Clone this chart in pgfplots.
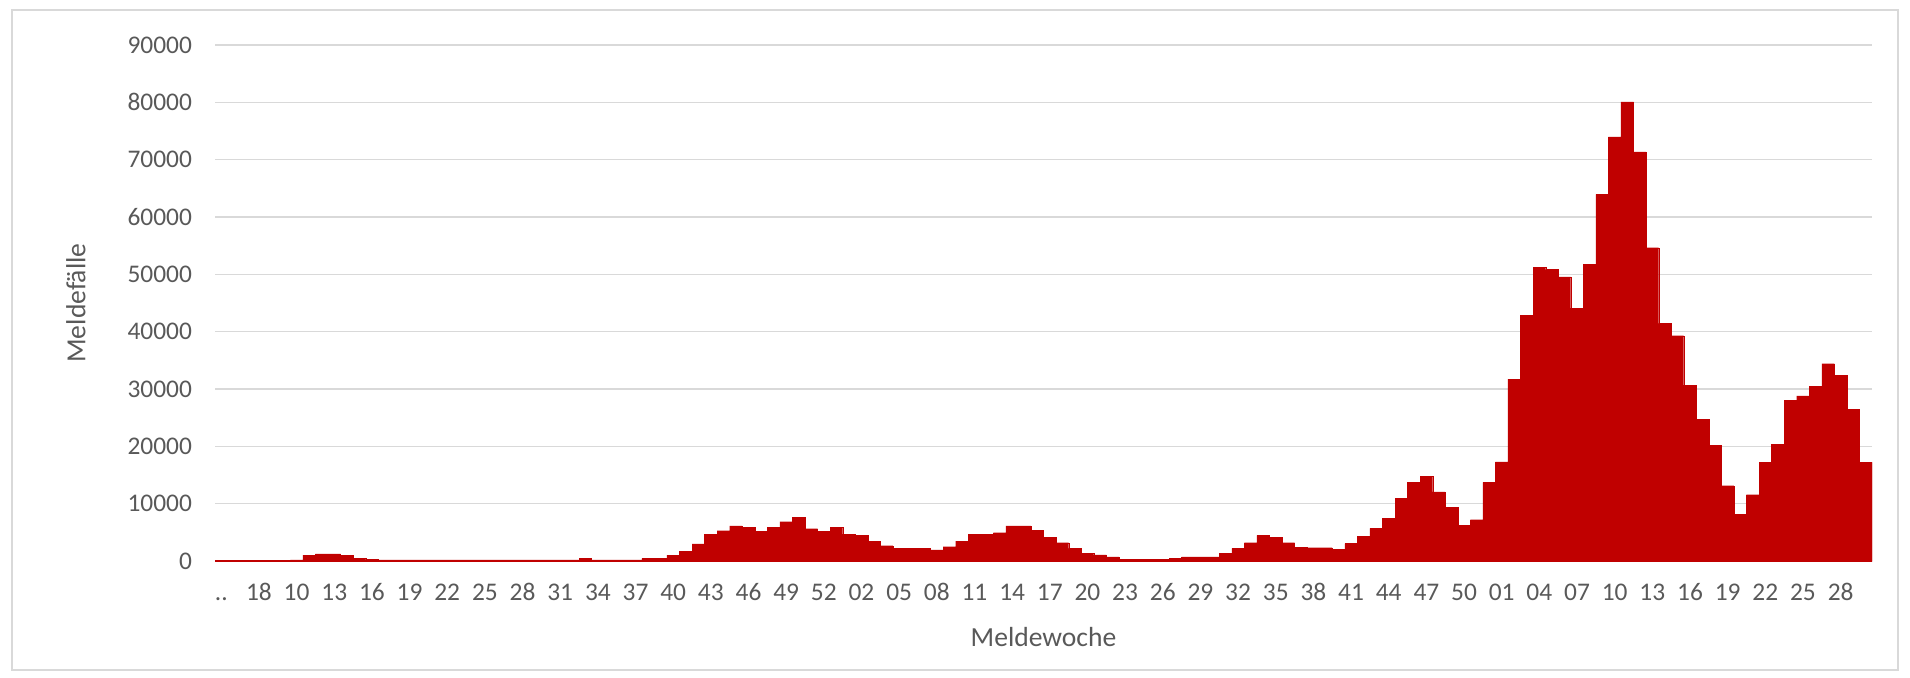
\documentclass[border=0pt]{standalone}
\usepackage{fontspec}
\setmainfont{Carlito}
\usepackage{pgfplots}
\pgfplotsset{compat=1.18}
\usepackage{pgfplotstable}

\definecolor{barred}{HTML}{C00000}
\definecolor{txtgray}{HTML}{595959}
\definecolor{gridgray}{HTML}{D9D9D9}

% Meldefaelle je Meldewoche (Position 0 = "..", Position 6 = 2020-W10)
\pgfplotstableread{
idx cases
0 150
1 100
2 100
3 100
4 100
5 150
6 200
7 1010
8 1250
9 1250
10 1010
11 480
12 250
13 200
14 200
15 200
16 200
17 200
18 200
19 200
20 200
21 200
22 200
23 200
24 200
25 200
26 200
27 200
28 200
29 480
30 200
31 200
32 200
33 200
34 480
35 480
36 1010
37 1730
38 2980
39 4640
40 5300
41 6130
42 5900
43 5180
44 5900
45 6850
46 7620
47 5650
48 5180
49 5900
50 4700
51 4520
52 3450
53 2680
54 2200
55 2200
56 2200
57 1960
58 2500
59 3450
60 4700
61 4700
62 4940
63 6130
64 6130
65 5360
66 4170
67 3210
68 2200
69 1310
70 1070
71 710
72 300
73 300
74 300
75 300
76 480
77 710
78 710
79 710
80 1310
81 2200
82 3210
83 4460
84 4170
85 3210
86 2400
87 2320
88 2320
89 2080
90 3040
91 4290
92 5710
93 7440
94 10890
95 13750
96 14820
97 12080
98 9390
99 6260
100 7200
101 13700
102 17300
103 31740
104 42880
105 51200
106 50830
107 49580
108 44130
109 51770
110 63970
111 73990
112 80100
113 71360
114 54650
115 41440
116 39310
117 30670
118 24730
119 20160
120 13150
121 8140
122 11580
123 17210
124 20340
125 28040
126 28800
127 30490
128 34430
129 32360
130 26420
131 17210
}\meldedaten

\begin{document}
\begin{tikzpicture}
  \path (0,0) rectangle (955pt,338.5pt);
  \draw[gridgray, line width=0.8pt] (6pt,3.5pt) rectangle (949pt,333.5pt);
  \begin{axis}[
      at={(107.5pt,58pt)},
      anchor=south west,
      scale only axis,
      width=828.5pt,
      height=258pt,
      xmin=-0.5, xmax=131.5,
      ymin=0, ymax=90000,
      ytick={0,10000,...,90000},
      xtick={0,3,...,129},
      xticklabels={{..},18,10,13,16,19,22,25,28,31,34,37,40,43,46,49,52,02,05,08,11,14,17,20,23,26,29,32,35,38,41,44,47,50,01,04,07,10,13,16,19,22,25,28},
      scaled y ticks=false,
      /pgf/number format/.cd, 1000 sep={}, assume math mode=true,
      /pgfplots/.cd,
      axis line style={draw=none},
      major tick length=0pt,
      ymajorgrids=true,
      grid style={gridgray, line width=0.8pt},
      tick label style={font=\fontsize{12.7}{15}\selectfont, text=txtgray},
      yticklabel style={anchor=east, xshift=-8pt},
      xticklabel style={anchor=north, yshift=-8pt, text height=8pt, text depth=0pt},
      xlabel={Meldewoche},
      ylabel={Meldefälle},
      label style={font=\fontsize{13.8}{16}\selectfont, text=txtgray},
      xlabel style={at={(axis description cs:0.5,0)}, anchor=center, yshift=-38pt},
      ylabel style={at={(axis description cs:0,0.5)}, anchor=center, rotate=0, yshift=69.5pt},
    ]
    \addplot[ybar, bar width=1, bar shift=0pt, fill=barred, draw=barred, line width=0.1pt]
      table[x=idx, y=cases] {\meldedaten};
  \end{axis}
\end{tikzpicture}
\end{document}
